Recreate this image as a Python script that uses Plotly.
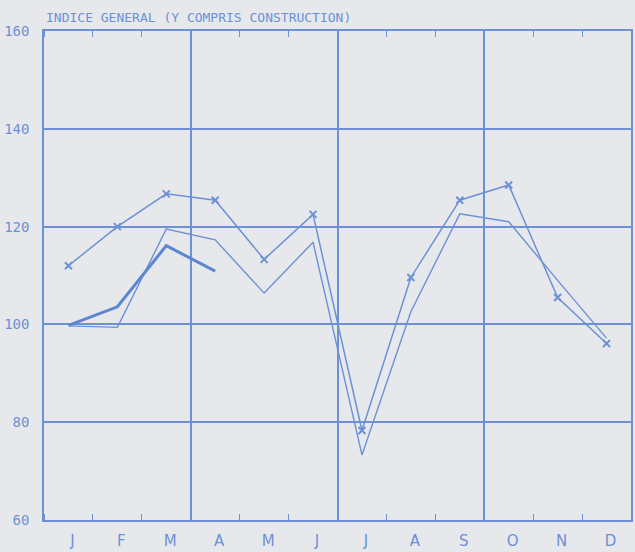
import plotly.graph_objects as go

months = ["J", "F", "M", "A", "M", "J", "J", "A", "S", "O", "N", "D"]
month_pos = list(range(12))
series_a = [112, 120, 126.7, 125.4, 113.3, 122.5, 78.3, 109.6, 125.4, 128.5, 105.5, 96.1]
series_b = [99.7, 99.4, 119.5, 117.3, 106.4, 116.8, 73.3, 102.6, 122.6, 121.0, 109.0, 97.2]
series_c = [99.8, 103.6, 116.1, 110.9]
y_ticks = [60, 80, 100, 120, 140, 160]
quarter_lines = [2.5, 5.5, 8.5]
title = "INDICE GENERAL (Y COMPRIS CONSTRUCTION)"

blue = "#6d91d5"
bg = "#e6e8ec"

fig = go.Figure()
fig.add_trace(go.Scatter(x=month_pos, y=series_b, mode="lines",
                         line=dict(color=blue, width=1.4), showlegend=False))
fig.add_trace(go.Scatter(x=month_pos, y=series_a, mode="lines+markers",
                         line=dict(color=blue, width=1.5),
                         marker=dict(symbol="x-thin", size=7,
                                     line=dict(color=blue, width=2)),
                         showlegend=False))
fig.add_trace(go.Scatter(x=month_pos[:len(series_c)], y=series_c, mode="lines",
                         line=dict(color="#5c86d2", width=3), showlegend=False))
# dummy trace for the secondary x-axis (quarter gridlines)
fig.add_trace(go.Scatter(x=[None], y=[None], xaxis="x2", showlegend=False))

fig.update_layout(
    width=635, height=552,
    margin=dict(l=44, r=2, t=31, b=32),
    paper_bgcolor=bg, plot_bgcolor=bg,
    xaxis=dict(range=[-0.5, 11.5], tickmode="array", tickvals=month_pos,
               ticktext=months, ticks="", showgrid=False, zeroline=False,
               showline=True, linecolor=blue, linewidth=1.5, mirror="allticks",
               ticklabelstandoff=6, ticklabelshift=4,
               tickfont=dict(family="DejaVu Sans", size=15, color=blue),
               minor=dict(tick0=0.5, dtick=1, ticks="inside", ticklen=6,
                          tickcolor=blue, tickwidth=1, showgrid=False)),
    xaxis2=dict(range=[-0.5, 11.5], overlaying="x", anchor="y", side="bottom",
                tickmode="array", tickvals=quarter_lines, showticklabels=False,
                ticks="", showgrid=True, gridcolor=blue, gridwidth=1.6,
                zeroline=False, showline=False),
    yaxis=dict(range=[60, 160], tickmode="array", tickvals=y_ticks,
               ticks="", showgrid=True, gridcolor=blue, gridwidth=1.8,
               zeroline=False, showline=True, linecolor=blue, linewidth=1.5,
               mirror=True, ticklabelstandoff=10,
               tickfont=dict(family="DejaVu Sans Mono", size=14, color=blue)),
    annotations=[dict(text=title, xref="paper", yref="paper", x=0, y=1,
                      xanchor="left", yanchor="bottom", yshift=4, showarrow=False,
                      font=dict(family="DejaVu Sans Mono", size=13, color=blue))],
)

fig.write_html("out.html", config={"displayModeBar": False},
               post_script="document.body.style.margin='0';"
                           "document.body.style.background='#e6e8ec';")
